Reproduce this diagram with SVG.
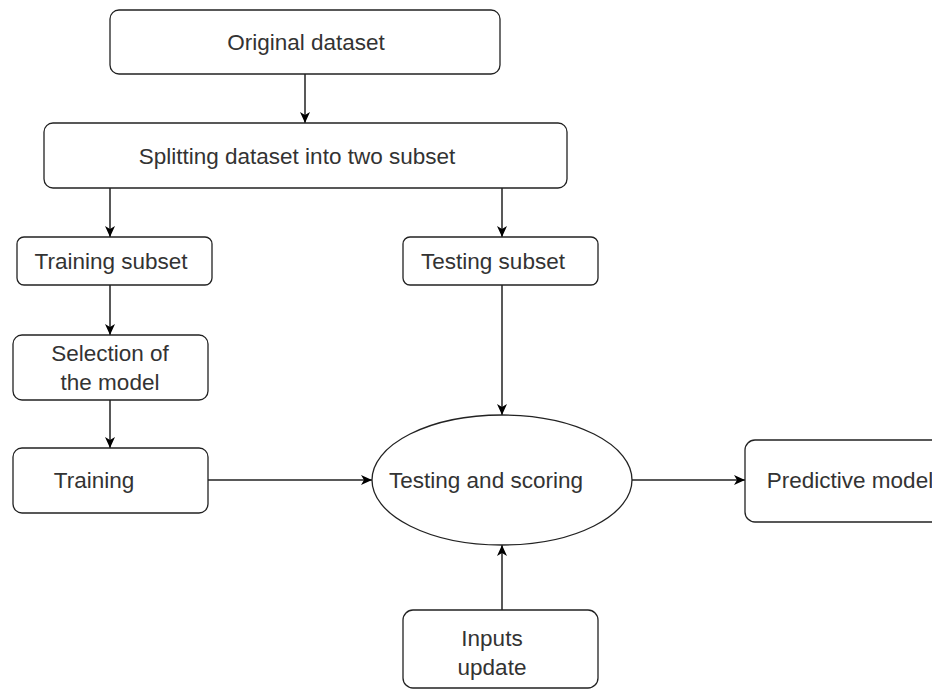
<svg xmlns="http://www.w3.org/2000/svg" width="932" height="689" viewBox="0 0 932 689">
<style>
.box{fill:#fff;stroke:#222;stroke-width:1.3}
.lbl{font-family:"Liberation Sans",Arial,sans-serif;font-size:22.5px;fill:#333;text-anchor:middle}
.edge{fill:none;stroke:#222;stroke-width:1.5}
</style>
<defs>
<marker id="arr" markerUnits="userSpaceOnUse" markerWidth="12" markerHeight="10" refX="11" refY="5" orient="auto">
<path d="M0,0 L11,5 L0,10 L3,5 Z" fill="#000"/>
</marker>
</defs>
<rect width="932" height="689" fill="#fff"/>
<g id="connectors">
<line class="edge" x1="305" y1="74" x2="305" y2="123" marker-end="url(#arr)"/>
<line class="edge" x1="110" y1="188" x2="110" y2="237" marker-end="url(#arr)"/>
<line class="edge" x1="502" y1="188" x2="502" y2="237" marker-end="url(#arr)"/>
<line class="edge" x1="110" y1="285" x2="110" y2="335" marker-end="url(#arr)"/>
<line class="edge" x1="110" y1="400" x2="110" y2="448" marker-end="url(#arr)"/>
<line class="edge" x1="502" y1="285" x2="502" y2="415" marker-end="url(#arr)"/>
<line class="edge" x1="208" y1="480" x2="372" y2="480" marker-end="url(#arr)"/>
<line class="edge" x1="632" y1="480" x2="745" y2="480" marker-end="url(#arr)"/>
<line class="edge" x1="502" y1="610" x2="502" y2="545" marker-end="url(#arr)"/>
</g>
<g id="original">
<rect class="box" x="110" y="10" width="390" height="64" rx="9"/>
<text class="lbl" x="306" y="50">Original dataset</text>
</g>
<g id="splitting">
<rect class="box" x="44" y="123" width="523" height="65" rx="9"/>
<text class="lbl" x="297" y="164">Splitting dataset into two subset</text>
</g>
<g id="training-subset">
<rect class="box" x="17" y="237" width="195" height="48" rx="7"/>
<text class="lbl" x="111" y="269">Training subset</text>
</g>
<g id="testing-subset">
<rect class="box" x="403" y="237" width="195" height="48" rx="7"/>
<text class="lbl" x="493" y="269">Testing subset</text>
</g>
<g id="selection">
<rect class="box" x="13" y="335" width="195" height="65" rx="9"/>
<text class="lbl" x="110" y="361">Selection of</text>
<text class="lbl" x="110" y="390">the model</text>
</g>
<g id="training">
<rect class="box" x="13" y="448" width="195" height="65" rx="9"/>
<text class="lbl" x="94" y="488">Training</text>
</g>
<g id="testing-scoring">
<ellipse class="box" cx="502" cy="480" rx="130" ry="65"/>
<text class="lbl" x="486" y="488">Testing and scoring</text>
</g>
<g id="predictive">
<rect class="box" x="745" y="440" width="200" height="82" rx="10"/>
<text class="lbl" x="850" y="488">Predictive model</text>
</g>
<g id="inputs">
<rect class="box" x="403" y="610" width="195" height="78" rx="10"/>
<text class="lbl" x="492" y="646">Inputs</text>
<text class="lbl" x="492" y="675">update</text>
</g>
</svg>
